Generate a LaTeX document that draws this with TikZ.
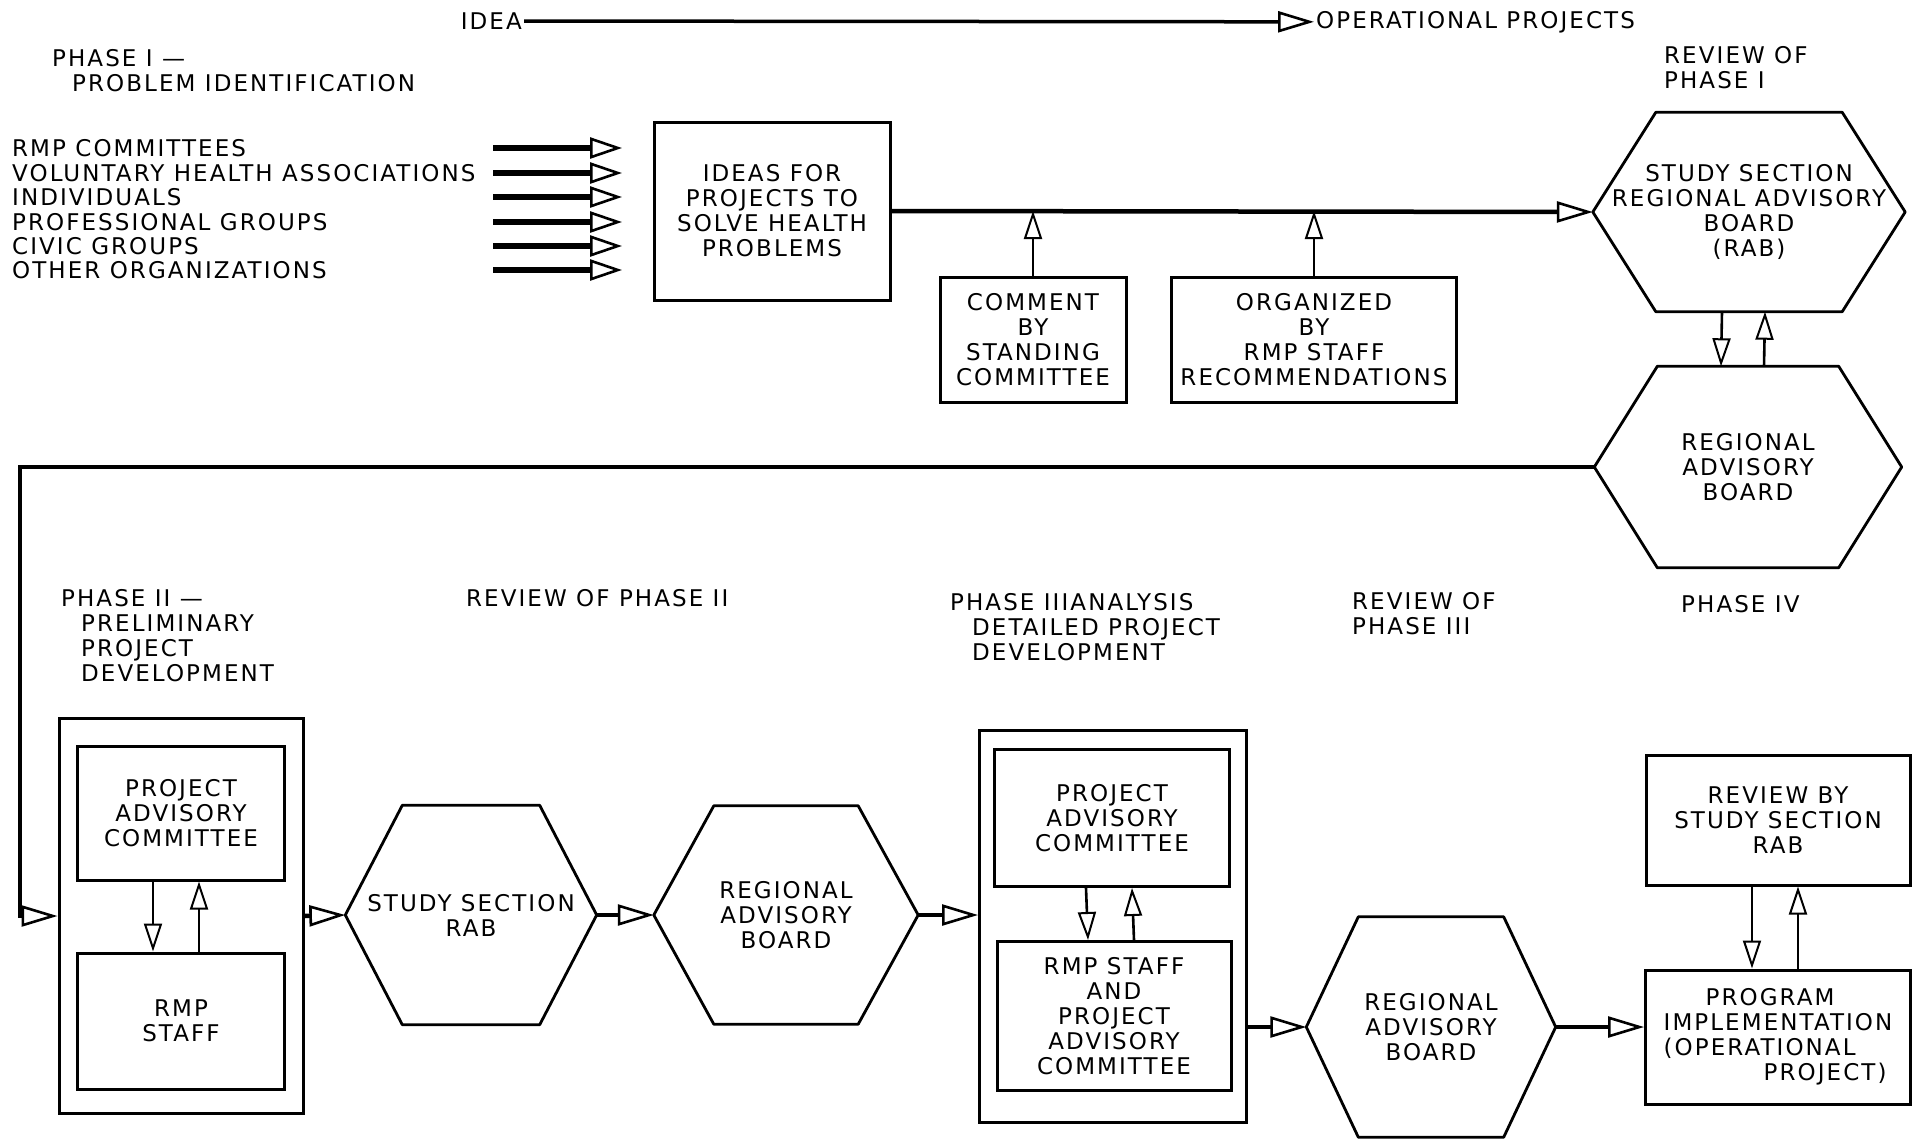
\documentclass[tikz,border=0pt]{standalone}
\usepackage{fontspec}
\newfontfamily\letterfont{DejaVu Sans}[LetterSpace=9]
\newcommand\lettering{\letterfont\fontsize{23}{25}\selectfont}
\usetikzlibrary{arrows.meta, positioning}

\begin{document}
\begin{tikzpicture}[
    x=1pt, y=-1pt,
    every node/.style={
      align=center,
      inner sep=2pt,
      font=\lettering
    },
    box/.style={rectangle, draw, line width=3pt, inner sep=0pt},
    hexa/.style={rectangle, inner sep=0pt},
    hexline/.style={line width=2.8pt, line join=round},
    heading/.style={align=left, anchor=north west},
    flow/.style={line width=4.5pt, -{Triangle[open, length=36pt, width=21pt, line width=2.6pt]}},
    feed/.style={line width=5.5pt, -{Triangle[open, length=32pt, width=21pt, line width=2.6pt]}},
    link/.style={line width=2.6pt, -{Triangle[open, length=28pt, width=18pt, line width=2pt]}}
  ]
    \useasboundingbox (0,0) rectangle (1923,1141);

    % Top line: idea to projects
    \node (idea) [anchor=east] at (524,21) {IDEA};
    \node (oper) [anchor=west] at (1314,22) {OPERATIONAL PROJECTS};
    \draw[flow, line width=3.5pt] (idea) -- (oper);

    % Phase I: inputs
    \node (ph1) [heading] at (50,47) {PHASE I —\\\hspace*{20pt}PROBLEM IDENTIFICATION};
    \node (rmp)   [anchor=west] at (10,148) {RMP COMMITTEES};
    \node (vha)   [anchor=west] at (10,173) {VOLUNTARY HEALTH ASSOCIATIONS};
    \node (indiv) [anchor=west] at (10,197) {INDIVIDUALS};
    \node (prof)  [anchor=west] at (10,222) {PROFESSIONAL GROUPS};
    \node (civic) [anchor=west] at (10,246) {CIVIC GROUPS};
    \node (other) [anchor=west] at (10,270) {OTHER ORGANIZATIONS};
    \coordinate (feedfrom) at (493,0);
    \coordinate (feedto)   at (622,0);

    \node (ideas) [box, minimum width=236pt, minimum height=178pt] at (772,211)
      {IDEAS FOR\\PROJECTS TO\\SOLVE HEALTH\\PROBLEMS};
    \node (comment) [box, minimum width=186pt, minimum height=125pt] at (1033,340)
      {COMMENT\\BY\\STANDING\\COMMITTEE};
    \node (organized) [box, minimum width=285pt, minimum height=125pt] at (1314,340)
      {ORGANIZED\\BY\\RMP STAFF\\RECOMMENDATIONS};

    % Review of phase I
    \node (rev1lab) [heading] at (1662,44) {REVIEW OF\\PHASE I};
    \node (rev1) [hexa, minimum width=312pt, minimum height=199pt] at (1749,212)
      {STUDY SECTION\\REGIONAL ADVISORY\\BOARD\\(RAB)};
    \node (rab1) [hexa, minimum width=307pt, minimum height=201pt] at (1748,467)
      {REGIONAL\\ADVISORY\\BOARD};

    % Phase II
    \node (ph2lab) [heading] at (59,587)
      {PHASE II —\\\hspace*{20pt}PRELIMINARY\\\hspace*{20pt}PROJECT\\\hspace*{20pt}DEVELOPMENT};
    \node (ph2box) [box, minimum width=244pt, minimum height=395pt] at (181,916) {};
    \node (pac2) [box, minimum width=207pt, minimum height=134pt] at (181,813)
      {PROJECT\\ADVISORY\\COMMITTEE};
    \node (staff2) [box, minimum width=207pt, minimum height=136pt] at (181,1021)
      {RMP\\STAFF};

    % Review of phase II
    \node (rev2lab) [anchor=west] at (464,598) {REVIEW OF PHASE II};
    \node (revii) [hexa, minimum width=251pt, minimum height=219pt] at (471,915)
      {STUDY SECTION\\RAB};
    \node (rabii) [hexa, minimum width=264pt, minimum height=218pt] at (786,915)
      {REGIONAL\\ADVISORY\\BOARD};

    % Phase III
    \node (ph3lab) [heading] at (948,591)
      {PHASE IIIANALYSIS\\\hspace*{22pt}DETAILED PROJECT\\\hspace*{22pt}DEVELOPMENT};
    \node (ph3box) [box, minimum width=267pt, minimum height=392pt] at (1113,926) {};
    \node (pac3) [box, minimum width=235pt, minimum height=137pt] at (1112,818)
      {PROJECT\\ADVISORY\\COMMITTEE};
    \node (staff3) [box, minimum width=234pt, minimum height=149pt] at (1114,1016)
      {RMP STAFF\\AND\\PROJECT\\ADVISORY\\COMMITTEE};

    % Review of phase III
    \node (rev3lab) [heading] at (1350,590) {REVIEW OF\\PHASE III};
    \node (rabiii) [hexa, minimum width=249pt, minimum height=220pt] at (1431,1027)
      {REGIONAL\\ADVISORY\\BOARD};

    % Phase IV
    \node (ph4lab) [anchor=west] at (1679,604) {PHASE IV};
    \node (revss) [box, minimum width=264pt, minimum height=130pt] at (1778,820)
      {REVIEW BY\\STUDY SECTION\\RAB};
    \node (prog) [box, align=left, minimum width=265pt, minimum height=134pt] at (1778,1037)
      {\hspace*{42pt}PROGRAM\\IMPLEMENTATION\\(OPERATIONAL\\\hspace*{100pt}PROJECT)};

    % Hexagon outlines
    \draw[hexline] (rev1.west) -- ([xshift=63pt]rev1.north west) -- ([xshift=-63pt]rev1.north east)
      -- (rev1.east) -- ([xshift=-63pt]rev1.south east) -- ([xshift=63pt]rev1.south west) -- cycle;
    \draw[hexline] (rab1.west) -- ([xshift=63pt]rab1.north west) -- ([xshift=-63pt]rab1.north east)
      -- (rab1.east) -- ([xshift=-63pt]rab1.south east) -- ([xshift=63pt]rab1.south west) -- cycle;
    \draw[hexline] (revii.west) -- ([xshift=57pt]revii.north west) -- ([xshift=-57pt]revii.north east)
      -- (revii.east) -- ([xshift=-57pt]revii.south east) -- ([xshift=57pt]revii.south west) -- cycle;
    \draw[hexline] (rabii.west) -- ([xshift=60pt]rabii.north west) -- ([xshift=-60pt]rabii.north east)
      -- (rabii.east) -- ([xshift=-60pt]rabii.south east) -- ([xshift=60pt]rabii.south west) -- cycle;
    \draw[hexline] (rabiii.west) -- ([xshift=52pt]rabiii.north west) -- ([xshift=-52pt]rabiii.north east)
      -- (rabiii.east) -- ([xshift=-52pt]rabiii.south east) -- ([xshift=52pt]rabiii.south west) -- cycle;

    % Edges
    \draw[feed] (rmp -| feedfrom)   -- (rmp -| feedto);
    \draw[feed] (vha -| feedfrom)   -- (vha -| feedto);
    \draw[feed] (indiv -| feedfrom) -- (indiv -| feedto);
    \draw[feed] (prof -| feedfrom)  -- (prof -| feedto);
    \draw[feed] (civic -| feedfrom) -- (civic -| feedto);
    \draw[feed] (other -| feedfrom) -- (other -| feedto);

    \draw[flow] (ideas.east) -- (rev1.west);
    \draw[link] (comment.north)   -- (comment.north |- ideas.east);
    \draw[link] (organized.north) -- (organized.north |- ideas.east);

    \draw[link] ([xshift=-27pt]rev1.south) -- ([xshift=-27pt]rab1.north);
    \draw[link] ([xshift=16pt]rab1.north)  -- ([xshift=16pt]rev1.south);

    \coordinate (back) at (20,0);
    \draw[flow] (rab1.west) -- (rab1.west -| back) |- (ph2box.west);

    \draw[link] ([xshift=-28pt]pac2.south)  -- ([xshift=-28pt]staff2.north);
    \draw[link] ([xshift=18pt]staff2.north) -- ([xshift=18pt]pac2.south);

    \draw[flow] (ph2box.east) -- (revii.west);
    \draw[flow] (revii.east)  -- (rabii.west);
    \draw[flow] (rabii.east)  -- (rabii.east -| ph3box.west);

    \draw[link] ([xshift=-26pt]pac3.south)  -- ([xshift=-26pt]staff3.north);
    \draw[link] ([xshift=20pt]staff3.north) -- ([xshift=20pt]pac3.south);

    \draw[flow] (ph3box.east |- rabiii.west) -- (rabiii.west);
    \draw[flow] (rabiii.east) -- (rabiii.east -| prog.west);

    \draw[link] ([xshift=-26pt]revss.south) -- ([xshift=-26pt]prog.north);
    \draw[link] ([xshift=20pt]prog.north)   -- ([xshift=20pt]revss.south);

  \end{tikzpicture}
\end{document}
